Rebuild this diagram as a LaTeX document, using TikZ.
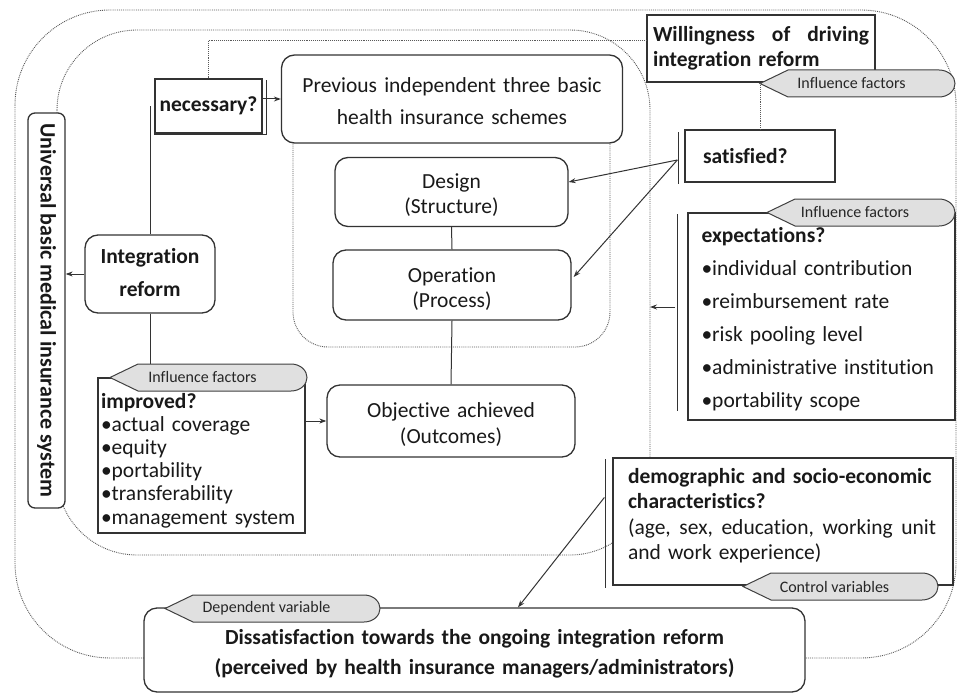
\documentclass[tikz,border=0pt]{standalone}
\usepackage{fontspec}
\setmainfont{Carlito}[Ligatures=NoCommon]
\usepackage{graphicx}
\usetikzlibrary{arrows.meta}

\tikzset{
  box/.style={draw=black!80, line width=1.3pt, fill=white, inner sep=0pt, text=black!90, font=\fontsize{21.5}{25}\selectfont},
  rbox/.style={box, rounded corners=13pt},
  dotline/.style={black!65, densely dotted, line width=0.9pt},
  conn/.style={black!80, line width=1pt},
  arr/.style={conn, ->},
  bar/.style={black!80, line width=1.3pt},
  tagline/.style={draw=black!75, line width=1pt, fill=black!12},
  tagtext/.style={font=\fontsize{16}{18}\selectfont, text=black!85, inner sep=0pt},
}

% tag: name, tip x, right x, top y, label
\newcommand{\vartag}[5]{%
  \draw[tagline] (#2,#4+13.5) -- (#2+28,#4) -- (#3-16,#4)
    .. controls (#3-6,#4) and (#3,#4+7) .. (#3,#4+13.5)
    .. controls (#3,#4+20) and (#3-6,#4+27) .. (#3-16,#4+27)
    -- (#2+28,#4+27) -- cycle;
  \coordinate (#1tip) at (#2,#4+13.5);
  \node[tagtext] (#1) at ({(#2+#3)/2-6},#4+13.5) {#5};
}

\begin{document}
\begin{tikzpicture}[x=1pt, y=-1pt, >={Stealth[length=7pt,width=5pt]}]
    \useasboundingbox (0,0) rectangle (957,695);
    % dotted frames
    \draw[dotline, rounded corners=95pt] (15,10) rectangle (956,658);
    \draw[dotline, rounded corners=80pt] (57,30) rectangle (650,555);
    \draw[dotline, rounded corners=35pt] (293,100) rectangle (610,347);
    % middle column
    \node[rbox, text width=341pt, text height=38pt, text depth=50pt, align=center, font=\fontsize{21.5}{32}\selectfont] (prev) at (452,99) {Previous independent three basic\\health insurance schemes};
    \node[rbox, text width=233pt, text height=31pt, text depth=38pt, align=center] (des) at (451.5,192) {Design\\(Structure)};
    \node[rbox, text width=238pt, text height=32pt, text depth=38pt, align=center] (op) at (452,285) {Operation\\(Process)};
    \node[rbox, text width=248pt, text height=32pt, text depth=40pt, align=center, font=\fontsize{21.5}{26}\selectfont] (obj) at (451,421) {Objective achieved\\(Outcomes)};
    % left column
    \node[rbox, text width=130pt, text height=28pt, text depth=50pt, align=center, font=\bfseries\fontsize{21.5}{33}\selectfont] (intr) at (150,274) {Integration\\reform};
    \node[box, rounded corners=7pt, minimum width=37pt, minimum height=395pt, font=\bfseries\fontsize{22}{25}\selectfont] (univ) at (46.5,310.5) {\rotatebox{-90}{Universal basic medical insurance system}};
    \node[box, minimum width=107pt, minimum height=54pt, font=\bfseries\fontsize{21.5}{25}\selectfont] (nec) at (208.5,106) {necessary?};
    \node[box, text width=201pt, inner xsep=3pt, text height=30pt, text depth=125pt, align=left, font=\fontsize{21.5}{23.2}\selectfont] (imp) at (201.5,455.5) {\textbf{improved?}\\\textbullet actual coverage\\\textbullet equity\\\textbullet portability\\\textbullet transferability\\\textbullet management system};
    % right column
    \node[box, text width=216pt, inner xsep=6pt, text height=27pt, text depth=40pt, align=left, font=\bfseries\fontsize{21.5}{25}\selectfont] (will) at (761,48.5) {\makebox[216pt][l]{Willingness\hfill of\hfill driving}\\integration reform};
    \node[box, minimum height=52pt, text width=114pt, inner xsep=18pt, align=left, font=\bfseries\fontsize{21.5}{25}\selectfont] (sat) at (760,156) {satisfied?};
    \node[box, text width=240pt, inner xsep=13.5pt, text height=29pt, text depth=178pt, align=left, font=\fontsize{21.5}{33}\selectfont] (exp) at (821.5,316.5) {\textbf{expectations?}\\\textbullet individual contribution\\\textbullet reimbursement rate\\\textbullet risk pooling level\\\textbullet administrative institution\\\textbullet portability scope};
    \node[box, text width=310pt, inner xsep=15pt, text height=25pt, text depth=102pt, align=left, font=\fontsize{21.5}{25.5}\selectfont] (dem) at (783,521.5) {\mbox{\textbf{demographic and socio-economic}}\\\textbf{characteristics?}\\\makebox[308pt][l]{(age,\hfill sex,\hfill education,\hfill working\hfill unit}\\and work experience)};
    % bottom
    \node[rbox, text width=661pt, text height=36pt, text depth=48pt, align=center, font=\bfseries\fontsize{21.5}{30}\selectfont] (dis) at (474.5,650) {Dissatisfaction towards the ongoing integration reform\\(perceived by health insurance managers/administrators)};
    % bars
    \draw[bar] ([xshift=4pt,yshift=-2pt]nec.north east) -- ([xshift=4pt,yshift=-1pt]nec.south east) -- ([yshift=-1pt]nec.south west);
    \draw[bar] ([xshift=-6pt,yshift=-3pt]sat.north west) -- ([xshift=-6pt,yshift=-1pt]sat.south west);
    \draw[bar] ([xshift=-10pt,yshift=-2pt]exp.north west) -- ([xshift=-10pt,yshift=10pt]exp.south west);
    \draw[bar] ([xshift=-7pt,yshift=-2pt]dem.north west) -- ([xshift=-7pt,yshift=-2pt]dem.south west);
    % connectors
    \draw[arr] (nec.east |- prev.west) -- (prev.west);
    \draw[arr] (intr.west) -- (intr.west -| univ.east);
    \draw[conn] (intr.north) -- (intr.north |- nec.west);
    \draw[conn] (intr.south) -- (intr.south |- imp.north);
    \draw[conn] (des.south) -- (op.north);
    \draw[conn] (op.south) -- (obj.north);
    \draw[arr] (obj.west -| imp.east) -- (obj.west);
    \coordinate (satout) at ([xshift=-7pt,yshift=-4pt]sat.west);
    \draw[arr] (satout) -- ([yshift=10pt]des.east);
    \draw[arr] (satout) -- ([xshift=2pt,yshift=8pt]op.east);
    \coordinate (expout) at (675,307);
    \coordinate (innerright) at (650,307);
    \draw[arr] (expout) -- (innerright);
    \coordinate (demout) at ([xshift=-8pt,yshift=24pt]dem.west);
    \draw[arr] (demout) -- ([xshift=43.5pt]dis.north);
    \draw[dotline] (nec.north) |- ([yshift=8pt]will.west);
    % tags
    \vartag{willtag}{760}{955}{70}{Influence factors}
    \vartag{exptag}{767}{955}{199}{Influence factors}
    \vartag{imptag}{110}{307}{364}{Influence factors}
    \vartag{ctrltag}{743}{938}{573}{Control variables}
    \vartag{deptag}{165}{380}{595}{Dependent variable}
    \draw[dotline] (willtagtip) -- (willtagtip |- sat.north);
\end{tikzpicture}
\end{document}
